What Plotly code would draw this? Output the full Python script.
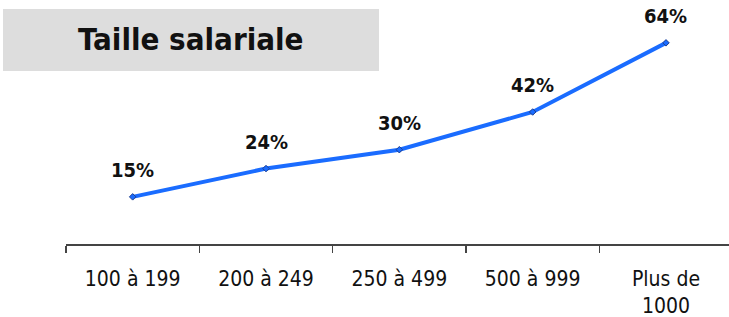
import plotly.graph_objects as go

categories = ["100 à 199", "200 à 249", "250 à 499", "500 à 999", "Plus de<br>1000"]
values = [15, 24, 30, 42, 64]
labels = ["15%", "24%", "30%", "42%", "64%"]
title_text = "Taille salariale"

W, H = 729, 317
FONT = "DejaVu Sans Condensed, DejaVu Sans, sans-serif"

# target pixel positions
plot_left = 66
plot_right = W
axis_y = 244
cat_w = 133.33
px_per_pct = 3.143

fig = go.Figure()
fig.add_trace(go.Scatter(
    x=categories, y=values, mode="lines+markers",
    line=dict(color="#1a6cff", width=4),
    marker=dict(symbol="diamond", size=5, color="#1a6cff",
                line=dict(color="#1f3f8f", width=1)),
    hoverinfo="skip", showlegend=False,
))

for c, v, t in zip(categories, values, labels):
    fig.add_annotation(x=c, y=v, text="<b>" + t + "</b>", showarrow=False,
                       xanchor="center", yanchor="bottom", yshift=13,
                       font=dict(family=FONT, size=20, color="#111111"))

# title box
fig.add_shape(type="rect", xref="paper", yref="paper",
              x0=3 / W, x1=379 / W, y0=1 - 71 / H, y1=1 - 9 / H,
              line=dict(width=0), fillcolor="#dddddd", layer="below")
fig.add_annotation(xref="paper", yref="paper", x=191 / W, y=1 - 39 / H,
                   text="<b>" + title_text + "</b>", showarrow=False,
                   xanchor="center", yanchor="middle",
                   font=dict(family=FONT, size=31, color="#111111"))

fig.update_layout(
    width=W, height=H, margin=dict(l=0, r=0, t=0, b=0),
    paper_bgcolor="white", plot_bgcolor="white",
    font=dict(family=FONT, size=21, color="#111111"),
    xaxis=dict(domain=[plot_left / W, 1], type="category",
               range=[-0.5, -0.5 + (plot_right - plot_left) / cat_w],
               tickson="boundaries", ticks="outside", ticklen=7,
               tickcolor="#444444", tickwidth=1.5, ticklabelstandoff=15,
               showline=True, linecolor="#444444", linewidth=1.5,
               showgrid=False, zeroline=False, automargin=False,
               tickfont=dict(family=FONT, size=21, color="#111111")),
    yaxis=dict(domain=[1 - axis_y / H, 1], range=[0, axis_y / px_per_pct],
               visible=False, showgrid=False, zeroline=False),
)

fig.write_html("out.html",
               config={"displayModeBar": False, "staticPlot": True},
               post_script="document.body.style.margin='0';"
                           "document.body.style.overflow='hidden';")
